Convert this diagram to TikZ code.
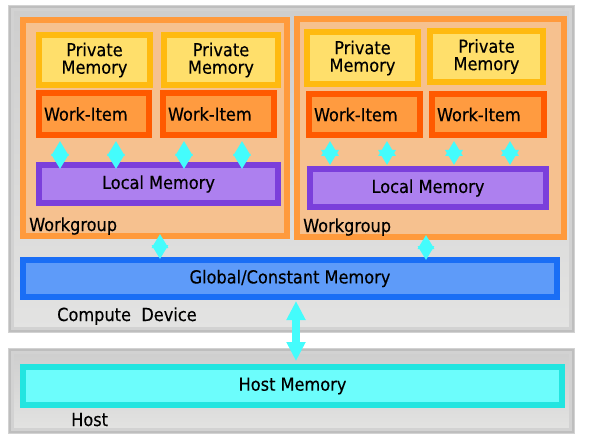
\documentclass[tikz,border=0pt]{standalone}
\usepackage{fontspec}
\setmainfont{DejaVu Sans Condensed}[FakeBold=0.3]
\usetikzlibrary{arrows.meta}
\definecolor{cdband}{HTML}{D2D2D2}
\definecolor{cdline}{HTML}{BEBEBE}
\definecolor{cdtop}{HTML}{CECECE}
\definecolor{cdbot}{HTML}{E3E3E2}
\definecolor{wgborder}{HTML}{FF9A3C}
\definecolor{wgfill}{HTML}{F6C18F}
\definecolor{pmborder}{HTML}{FFBA10}
\definecolor{pmfill}{HTML}{FFDF6B}
\definecolor{wiborder}{HTML}{FF5A00}
\definecolor{wifill}{HTML}{FF9B40}
\definecolor{lmborder}{HTML}{7B3FDB}
\definecolor{lmfill}{HTML}{AD80EF}
\definecolor{gmborder}{HTML}{1A6EF5}
\definecolor{gmfill}{HTML}{5E9BF9}
\definecolor{hmborder}{HTML}{22E5E0}
\definecolor{hmfill}{HTML}{6CFDFC}
\definecolor{arrowc}{HTML}{44FCFC}
\definecolor{txt}{HTML}{000000}
\tikzset{
  box/.style={draw, line width=6pt, inner sep=0pt, text=txt, align=center,
    font=\fontsize{18}{17.5}\selectfont},
  sz/.style 2 args={minimum width=#1pt, minimum height=#2pt},
  cdbox/.style={box, draw=cdband, top color=cdtop, bottom color=cdbot},
  wgbox/.style={box, draw=wgborder, fill=wgfill},
  pmbox/.style={box, draw=pmborder, fill=pmfill},
  wibox/.style={box, draw=wiborder, fill=wifill, align=left, inner xsep=5pt},
  lmbox/.style={box, draw=lmborder, fill=lmfill},
  gmbox/.style={box, draw=gmborder, fill=gmfill},
  hmbox/.style={box, draw=hmborder, fill=hmfill},
  lbl/.style={inner sep=0pt, anchor=base west, text=txt,
    font=\fontsize{18}{16}\selectfont},
  dia/.style={draw=arrowc, line width=3pt,
    {Triangle[width=17pt,length=15pt]}-{Triangle[width=17pt,length=15pt]}},
  dia2/.style={draw=arrowc, line width=3pt,
    {Triangle[width=16pt,length=14pt]}-{Triangle[width=16pt,length=14pt]}},
  bigarrow/.style={draw=arrowc, line width=8pt,
    {Triangle[width=18pt,length=19pt]}-{Triangle[width=18pt,length=19pt]}},
}
\begin{document}
\begin{tikzpicture}[x=1pt,y=-1pt]
\useasboundingbox (0,0) rectangle (596,446);
\fill[white] (0,0) rectangle (596,446);

% Compute device and host
\node[cdbox, sz={561}{322}] (cd) at (291.5,169) {};
\draw[cdline, line width=2pt] ([shift={(2,2)}]cd.north west) rectangle ([shift={(-2,-2)}]cd.south east);
\node[cdbox, sz={561}{80}] (host) at (291.5,391) {};
\draw[cdline, line width=2pt] ([shift={(2,2)}]host.north west) rectangle ([shift={(-2,-2)}]host.south east);

% Workgroups
\node[wgbox, sz={264}{216}] (wg1) at (155,128) {};
\node[wgbox, sz={267}{218}] (wg2) at (430.5,128) {};

% Private memories
\node[pmbox, sz={111}{50}] (pm1) at (94.5,60) {Private\\Memory};
\node[pmbox, sz={114}{50}] (pm2) at (221,60) {Private\\Memory};
\node[pmbox, sz={111}{52}] (pm3) at (362.5,58) {Private\\Memory};
\node[pmbox, sz={113}{51}] (pm4) at (486.5,56.5) {Private\\Memory};

% Work-items
\node[wibox, sz={110}{42}, text width=100pt] (wi1) at (94,114) {Work-Item};
\node[wibox, sz={111}{42}, text width=101pt] (wi2) at (218.5,114) {Work-Item};
\node[wibox, sz={111}{41}, text width=101pt] (wi3) at (364.5,114.5) {Work-Item};
\node[wibox, sz={112}{41}, text width=102pt] (wi4) at (488,114.5) {Work-Item};

% Local memories
\node[lmbox, sz={239}{38}] (lm1) at (158.5,184) {Local Memory};
\node[lmbox, sz={236}{38}] (lm2) at (428,188) {Local Memory};

% Global and host memory
\node[gmbox, sz={534}{37}] (gm) at (290,278.5) {Global/Constant Memory};
\node[hmbox, sz={539}{38}] (hm) at (292.5,386) {Host Memory};

% Labels
\node[lbl] (wg1lbl) at (29,231) {Workgroup};
\node[lbl] (wg2lbl) at (303,232) {Workgroup};
\node[lbl] (cdlbl) at (57,321) {Compute~~Device};
\node[lbl] (hostlbl) at (71,426) {Host};

% Work-item <-> local memory
\draw[dia] ([shift={(-34,3)}]wi1.south) -- ([shift={(-98.5,7)}]lm1.north);
\draw[dia] ([shift={(22,3)}]wi1.south) -- ([shift={(-42.5,7)}]lm1.north);
\draw[dia] ([shift={(-34.5,3)}]wi2.south) -- ([shift={(25.5,7)}]lm1.north);
\draw[dia] ([shift={(23.5,3)}]wi2.south) -- ([shift={(83.5,7)}]lm1.north);
\draw[dia] ([shift={(-34.5,3)}]wi3.south) -- ([shift={(-98,-1)}]lm2.north);
\draw[dia] ([shift={(22.5,3)}]wi3.south) -- ([shift={(-41,-1)}]lm2.north);
\draw[dia] ([shift={(-34,3)}]wi4.south) -- ([shift={(26,-1)}]lm2.north);
\draw[dia] ([shift={(22,3)}]wi4.south) -- ([shift={(82,-1)}]lm2.north);

% Workgroup <-> global memory
\draw[dia2] ([shift={(5,-5)}]wg1.south) -- ([shift={(-130,2)}]gm.north);
\draw[dia2] ([shift={(-4.5,-5)}]wg2.south) -- ([shift={(136,3)}]gm.north);

% Global <-> host memory
\draw[bigarrow] ([shift={(6,1)}]gm.south) -- ([shift={(3.5,-3)}]hm.north);
\end{tikzpicture}
\end{document}
